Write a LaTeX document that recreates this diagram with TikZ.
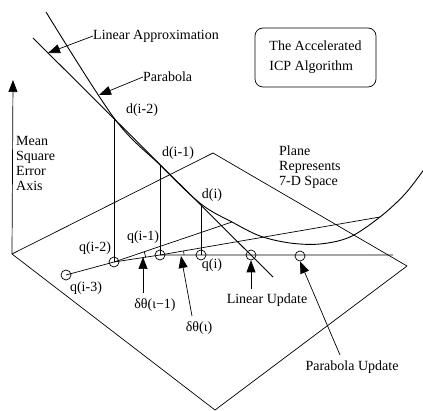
\documentclass[tikz,border=0pt]{standalone}
\usepackage{fontspec}
\setmainfont{Liberation Serif}
\usetikzlibrary{arrows.meta, positioning}
\tikzstyle{point} = [circle, 
draw=black, 
line width=0.7pt, 
minimum size=10pt, 
inner sep=0pt]
\tikzstyle{tag} = [inner sep=0pt, 
font=\fontsize{14}{15}\selectfont]
\tikzstyle{edge} = [line width=0.7pt]
\tikzstyle{curve} = [line width=0.9pt]
\tikzstyle{pointer} = [line width=0.7pt, 
-{Triangle[length=12pt,width=9pt]}]

\begin{document}
\begin{tikzpicture}[x=1pt, y=-1pt, line join=round]
\useasboundingbox (0,0) rectangle (423,411);

% plane
\coordinate (pl_left) at (12,254);
\coordinate (pl_top) at (213,153);
\coordinate (pl_right) at (407,266);
\coordinate (pl_bottom) at (215,410);
\draw [edge] (pl_left) -- (pl_top) -- (pl_right) -- (pl_bottom) -- cycle;

% error axis
\coordinate (axis_top) at (13,80);
\draw [pointer] (pl_left) -- (axis_top);
\node (axis_lbl) [tag, align=left, anchor=west] at (16,163) {Mean\\Square\\Error\\Axis};

\node (plane_lbl) [tag, align=left, anchor=west] at (279,167) {Plane\\Represents\\7-D Space};

\node (title) [draw, rounded corners=8pt, line width=0.7pt, 
               minimum width=121pt, minimum height=59pt, 
               font=\fontsize{14}{15}\selectfont, align=left] 
              at (315.5,57.5) {The Accelerated\\[5pt]ICP Algorithm};

% points on the curve
\coordinate (d_i2) at (114,118);
\coordinate (d_i1) at (160,165);
\coordinate (d_i) at (201,204);
\coordinate (par_tip) at (99,95);
\coordinate (a_end) at (232,222);
\coordinate (b_end) at (380,217);

% linear approximation and parabola
\coordinate (la_start) at (33,38);
\coordinate (la_end) at (273,277);
\coordinate (la_tip) at (48,53);
\draw [curve] (la_start) -- (la_end);
\draw [curve] plot [smooth, tension=0.55] coordinates {(46,12) (d_i2) (d_i1) (d_i)
      (a_end) (260,236) (290,243) (320,244) (350,237) (b_end) (405,194) (425,168)};

% iterates in the plane
\node (q_i3) [point] at (66,275) {};
\node (q_i2) [point] at (114,262) {};
\node (q_i1) [point] at (160,255) {};
\node (q_i) [point] at (201,255) {};
\node (lin) [point] at (251,255) {};
\node (par) [point] at (300,256) {};
\coordinate (h_end) at (393,255);

\draw [edge] (q_i3.center) -- (q_i2.center) -- (q_i1.center) -- (h_end);
\draw [edge] (q_i2.center) -- (a_end);
\draw [edge] (q_i1.center) -- (b_end);
\draw [edge] (d_i2) -- (q_i2.center);
\draw [edge] (d_i1) -- (q_i1.center);
\draw [edge] (d_i) -- (q_i.center);

% angle marks
\draw [edge] (q_i2.center) ++(8.8:32pt) arc[start angle=8.8, end angle=18.6, radius=32pt];
\draw [edge] (q_i1.center) ++(0:24pt) arc[start angle=0, end angle=9.7, radius=24pt];

% labels
\node (d_i2_lbl) [tag] at (142,110) {d(i-2)};
\node (d_i1_lbl) [tag] at (178,153) {d(i-1)};
\node (d_i_lbl) [tag] at (212,195) {d(i)};
\node (q_i3_lbl) [tag] at (86,288) {q(i-3)};
\node (q_i2_lbl) [tag] at (95,248) {q(i-2)};
\node (q_i1_lbl) [tag] at (143,237) {q(i-1)};
\node (q_i_lbl) [tag] at (212,265) {q(i)};

\node (lin_approx) [tag, anchor=west] at (93,36) {Linear Approximation};
\node (parabola) [tag, anchor=west] at (143,77) {Parabola};
\draw [pointer] (lin_approx.west) -- (la_tip);
\draw [pointer] (parabola.west) -- (par_tip);

\coordinate (dt1_tail) at (143,293);
\coordinate (dt1_tip) at (143,257);
\coordinate (dt_tail) at (192,316);
\coordinate (dt_tip) at (181,256);
\coordinate (lin_tail) at (251,289);
\coordinate (par_tail) at (340,355);
\draw [pointer] (dt1_tail) -- (dt1_tip);
\draw [pointer] (dt_tail) -- (dt_tip);
\draw [pointer] (lin_tail) -- (lin.south);
\draw [pointer] (par_tail) -- (par.south);

\node (dt1_lbl) [tag] at (155,305) {δθ(ι−1)};
\node (dt_lbl) [tag] at (199,328) {δθ(ι)};
\node (lin_update) [tag] at (267,300) {Linear Update};
\node (par_update) [tag] at (352,367) {Parabola Update};

\end{tikzpicture}
\end{document}
